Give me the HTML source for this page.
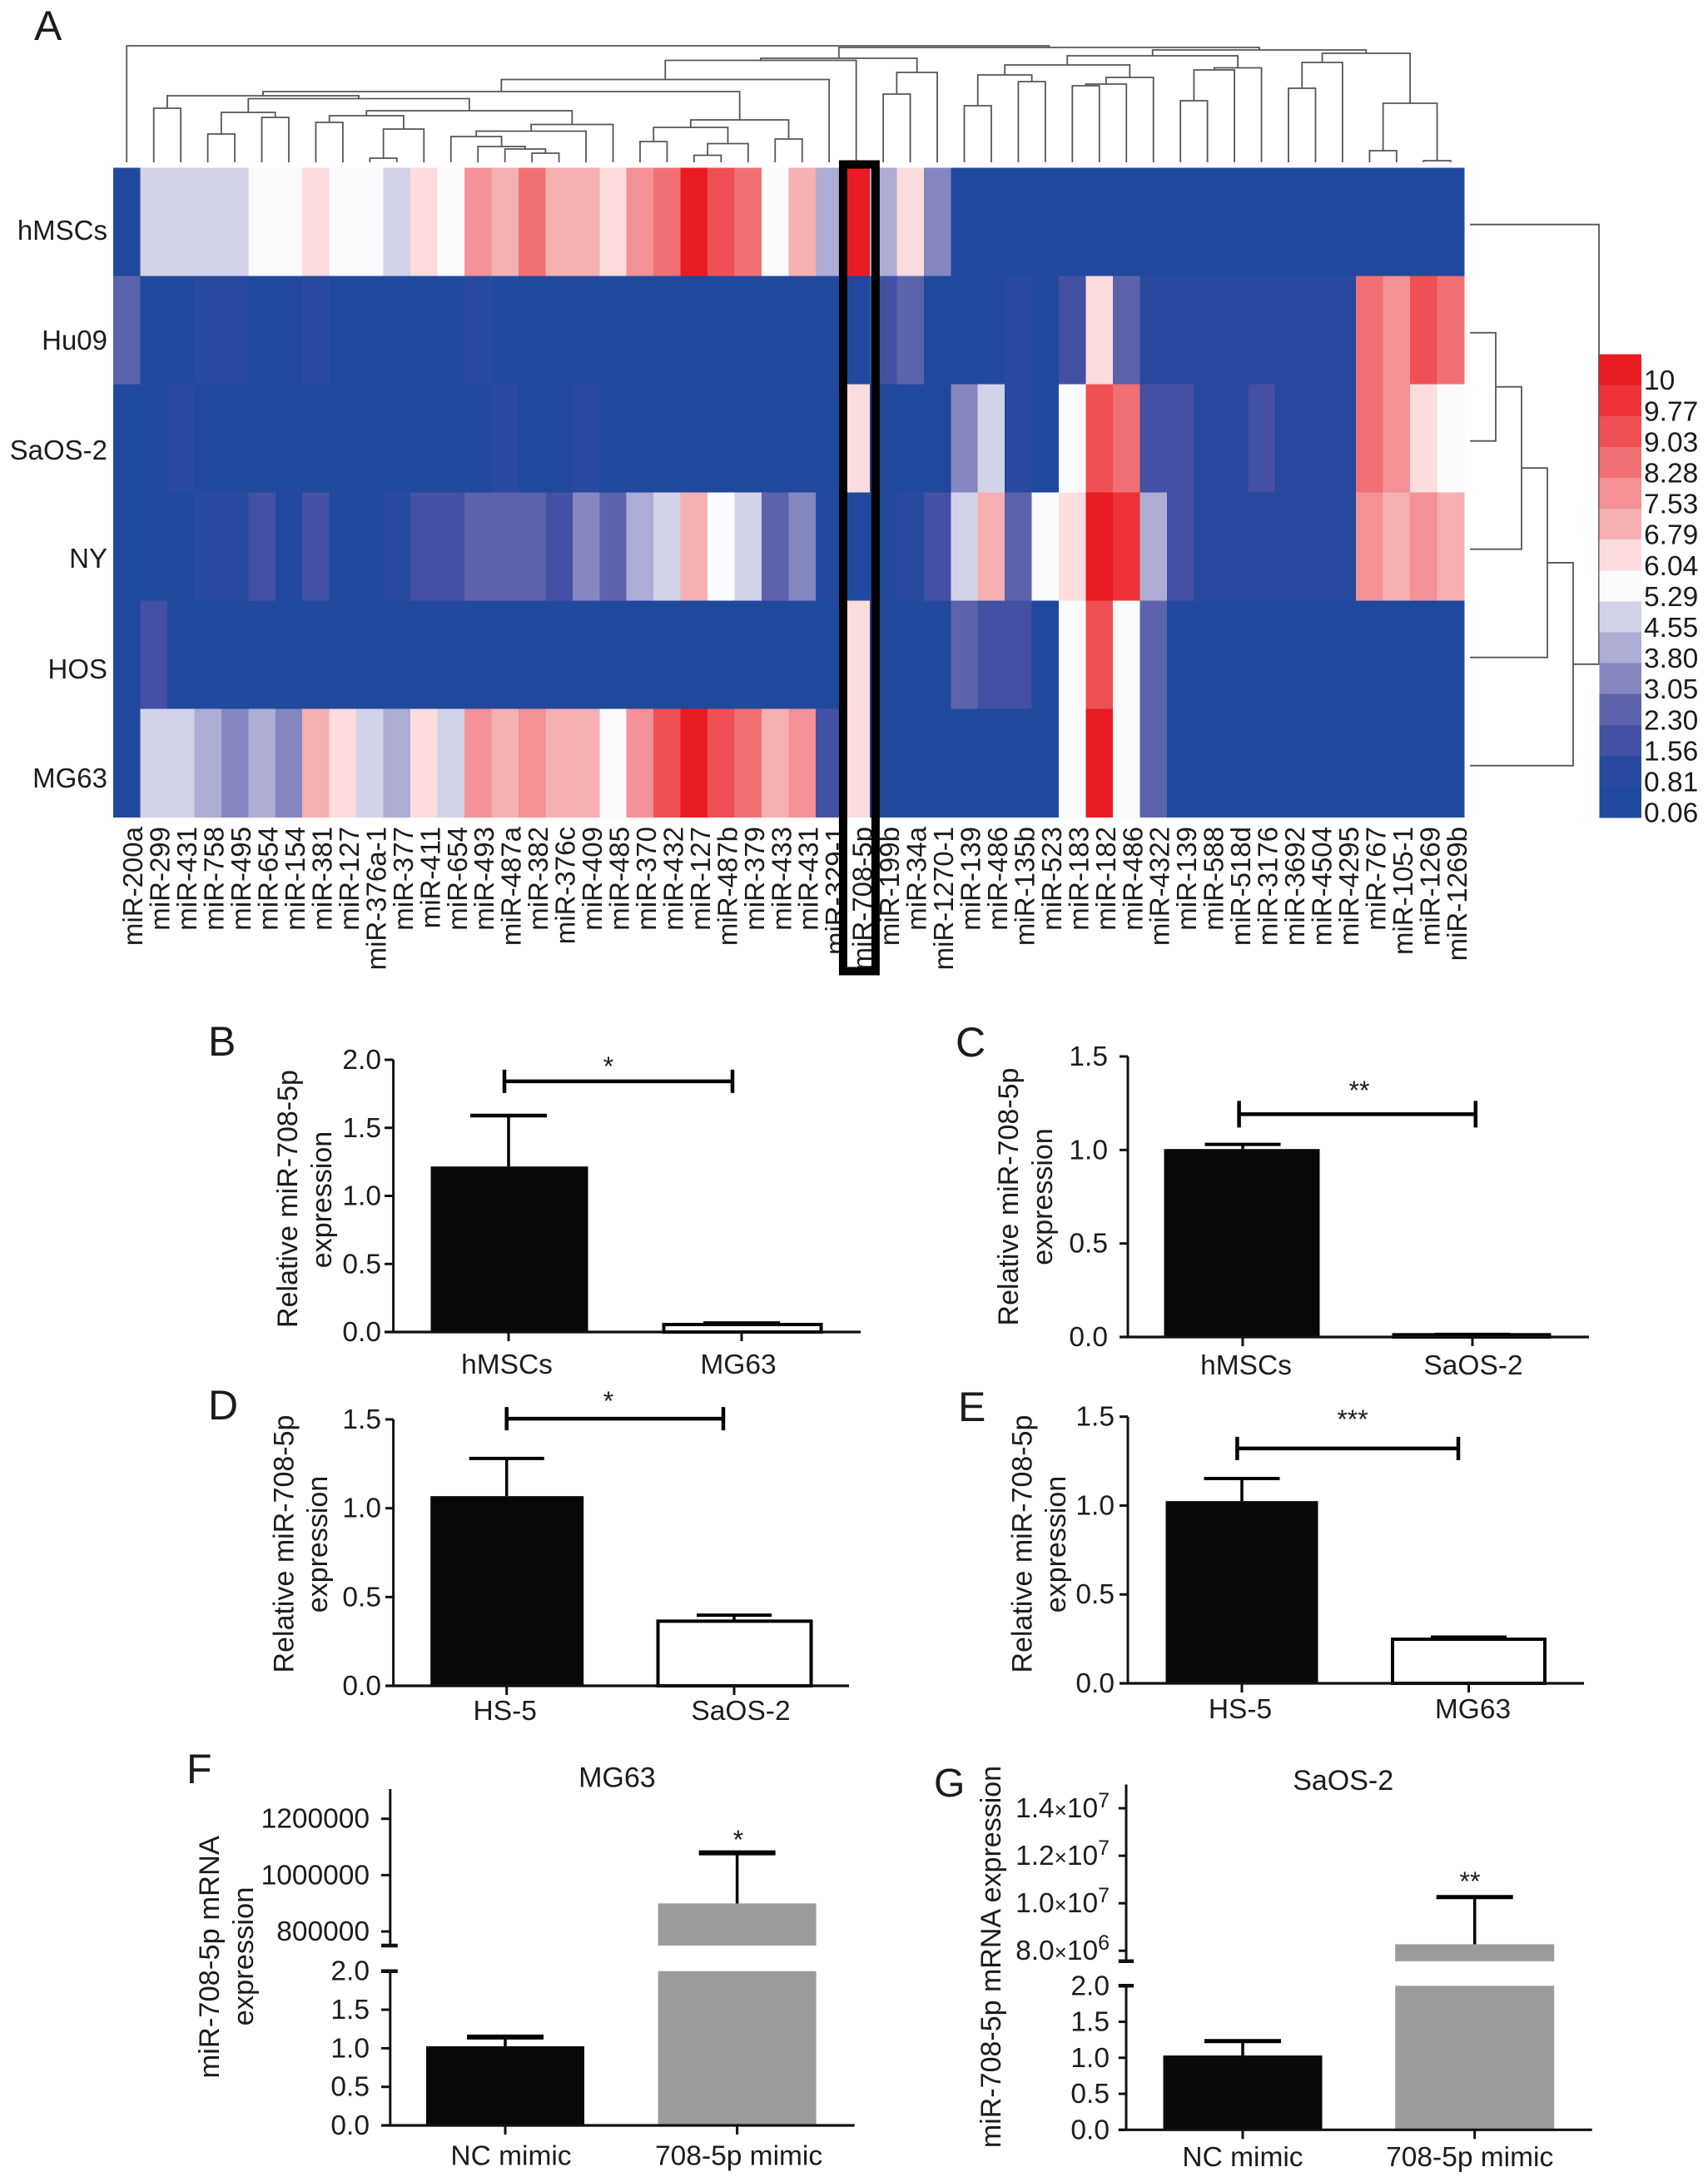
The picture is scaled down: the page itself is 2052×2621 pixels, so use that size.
<!DOCTYPE html>
<html lang="en">
<head>
<meta charset="utf-8">
<title>miR-708-5p expression figure</title>
<style>
html,body{margin:0;padding:0;background:#fff;}
svg{display:block;}
text{font-family:"Liberation Sans",sans-serif;fill:#1c1c1c;}
</style>
</head>
<body>
<svg id="figure" xmlns="http://www.w3.org/2000/svg" width="2052" height="2621" viewBox="0 0 2052 2621">
<rect x="0" y="0" width="2052" height="2621" fill="#fff"/>
<text x="41" y="48" font-size="50">A</text>
<text x="250" y="1268" font-size="50">B</text>
<text x="1148" y="1269" font-size="50">C</text>
<text x="250" y="1705" font-size="50">D</text>
<text x="1151" y="1707" font-size="50">E</text>
<text x="224" y="2142" font-size="50">F</text>
<text x="1122" y="2158" font-size="48">G</text>
</svg>
<script>
/* ---------- Heatmap data ---------- */
const heatColumns = ['miR-200a','miR-299','miR-431','miR-758','miR-495','miR-654','miR-154','miR-381','miR-127','miR-376a-1','miR-377','miR-411','miR-654','miR-493','miR-487a','miR-382','miR-376c','miR-409','miR-485','miR-370','miR-432','miR-127','miR-487b','miR-379','miR-433','miR-431','miR-329-1','miR-708-5p','miR-199b','miR-34a','miR-1270-1','miR-139','miR-486','miR-135b','miR-523','miR-183','miR-182','miR-486','miR-4322','miR-139','miR-588','miR-518d','miR-3176','miR-3692','miR-4504','miR-4295','miR-767','miR-105-1','miR-1269','miR-1269b'];
const heatRowNames = ['hMSCs','Hu09','SaOS-2','NY','HOS','MG63'];
const heatHMSCs = [0.06,4.55,4.55,4.55,4.55,5.29,5.29,6.04,5.29,5.29,4.55,6.04,5.29,7.53,6.79,8.28,6.79,6.79,6.04,7.53,8.28,10,9.03,8.28,5.29,6.79,3.80,10,3.80,6.04,3.05,0.06,0.06,0.06,0.06,0.06,0.06,0.06,0.06,0.06,0.06,0.06,0.06,0.06,0.06,0.06,0.06,0.06,0.06,0.06];
const heatHu09 = [2.30,0.06,0.06,0.81,0.81,0.06,0.06,0.81,0.06,0.06,0.06,0.06,0.06,0.81,0.06,0.06,0.06,0.06,0.06,0.06,0.06,0.06,0.06,0.06,0.06,0.06,0.06,0.06,1.56,2.30,0.06,0.06,0.06,0.81,0.06,1.56,6.04,2.30,0.81,0.81,0.81,0.81,0.81,0.81,0.81,0.81,8.28,7.53,9.03,8.28];
const heatSaOS2 = [0.06,0.06,0.81,0.06,0.06,0.06,0.06,0.06,0.06,0.06,0.06,0.06,0.06,0.06,0.81,0.06,0.06,0.81,0.06,0.06,0.06,0.06,0.06,0.06,0.06,0.06,0.06,6.04,0.06,0.06,0.06,3.05,4.55,0.81,0.06,5.29,9.03,8.28,1.56,1.56,0.81,0.81,1.56,0.81,0.81,0.81,8.28,7.53,6.04,5.29];
const heatNY = [0.06,0.06,0.06,0.81,0.81,1.56,0.06,1.56,0.06,0.06,0.81,1.56,1.56,2.30,2.30,2.30,1.56,3.05,2.30,3.80,4.55,6.79,5.29,4.55,2.30,3.05,0.06,0.06,0.06,0.81,1.56,4.55,6.79,2.30,5.29,6.04,10,9.77,3.80,1.56,0.81,0.81,0.81,0.81,0.81,0.81,7.53,6.79,7.53,6.79];
const heatHOS = [0.06,1.56,0.06,0.06,0.06,0.06,0.06,0.06,0.06,0.06,0.06,0.06,0.06,0.06,0.06,0.06,0.06,0.06,0.06,0.06,0.06,0.06,0.06,0.06,0.06,0.06,0.06,6.04,0.06,0.06,0.06,2.30,1.56,1.56,0.06,5.29,9.03,5.29,2.30,0.06,0.06,0.06,0.06,0.06,0.06,0.06,0.06,0.06,0.06,0.06];
const heatMG63 = [0.06,4.55,4.55,3.80,3.05,3.80,3.05,6.79,6.04,4.55,3.80,6.04,4.55,7.53,6.79,7.53,6.79,6.79,5.29,7.53,9.03,10,9.03,8.28,6.79,7.53,1.56,6.04,0.06,0.06,0.06,0.06,0.06,0.06,0.06,5.29,10,5.29,2.30,0.06,0.06,0.06,0.06,0.06,0.06,0.06,0.06,0.06,0.06,0.06];
const heatRows = [heatHMSCs,heatHu09,heatSaOS2,heatNY,heatHOS,heatMG63];
const legendValues = [10,9.77,9.03,8.28,7.53,6.79,6.04,5.29,4.55,3.80,3.05,2.30,1.56,0.81,0.06];
const legendLabels = ['10','9.77','9.03','8.28','7.53','6.79','6.04','5.29','4.55','3.80','3.05','2.30','1.56','0.81','0.06'];
const legendColors = ['#e91c23','#ec3236','#ee5054','#f07073','#f39196','#f6b0b1','#fcdcdc','#fbfbfd','#d2d2e8','#acacd4','#8586c0','#5c62ac','#4350a3','#27499e','#20499e'];

/* Merge trees: [left, right, mergeHeight]; a bare number is a leaf index. */
const columnTree = [0,[[[[[[[1,2,65],[[[3,4,34],[5,6,54],60],[[[7,8,48],[[9,10,5],11,40],56],[[[12,[13,[14,[15,16,11],16],19],31],17,37.5],18,45.5],62],76.5],80],[[[19,20,25],[[21,22,8.5],23,22.5],42],[24,25,28],51],85],26,99.5],27,122.5],[[28,29,82],30,108],125],[[[[[31,32,68],[33,34,97],105],[[[35,36,92],37,94],38,102],117],[[[39,40,74],41,111],42,113.5],128],[[[43,44,89],45,120],[[46,47,14],[48,49,2],71],131],135],138],140];
const rowTree = [0,[[[[1,2,31],3,62],4,93],5,124],155];

/* ---------- Bar panel data ---------- */
const panelBCategories = ['hMSCs','MG63'];
const panelBValues = [1.216,0.055];
const panelBErrorTops = [1.59,0.065];
const panelBTicks = [0,0.5,1,1.5,2];
const panelBTickLabels = ['0.0','0.5','1.0','1.5','2.0'];

const panelCCategories = ['hMSCs','SaOS-2'];
const panelCValues = [1.005,0.012];
const panelCErrorTops = [1.03,0.014];
const panelCTicks = [0,0.5,1,1.5];
const panelCTickLabels = ['0.0','0.5','1.0','1.5'];

const panelDCategories = ['HS-5','SaOS-2'];
const panelDValues = [1.068,0.364];
const panelDErrorTops = [1.28,0.398];
const panelDTicks = [0,0.5,1,1.5];
const panelDTickLabels = ['0.0','0.5','1.0','1.5'];

const panelECategories = ['HS-5','MG63'];
const panelEValues = [1.025,0.248];
const panelEErrorTops = [1.152,0.26];
const panelETicks = [0,0.5,1,1.5];
const panelETickLabels = ['0.0','0.5','1.0','1.5'];

const panelFCategories = ['NC mimic','708-5p mimic'];
const panelFValues = [1.026,899500];
const panelFErrorTops = [1.145,1079000];
const panelFTicks = [0,0.5,1,1.5,2,800000,1000000,1200000];
const panelFTickLabels = ['0.0','0.5','1.0','1.5','2.0','800000','1000000','1200000'];

const panelGCategories = ['NC mimic','708-5p mimic'];
const panelGValues = [1.032,8275000];
const panelGErrorTops = [1.232,10260000];
const panelGTicks = [0,0.5,1,1.5,2,8000000,10000000,12000000,14000000];
const panelGTickLabels = ['0.0','0.5','1.0','1.5','2.0','8.0×10^6','1.0×10^7','1.2×10^7','1.4×10^7'];

/* ---------- Helpers ---------- */
const NS = 'http://www.w3.org/2000/svg';
const root = document.getElementById('figure');
function mk(tag, attrs, parent){
  const e = document.createElementNS(NS, tag);
  for (const k in attrs) e.setAttribute(k, attrs[k]);
  (parent || root).appendChild(e);
  return e;
}

/* ---------- Heatmap ---------- */
const hm = {left:136, top:201.7, cellW:1623/50, cellH:130};
const hx = function(i){ return hm.left + i*hm.cellW; };
const hy = function(r){ return hm.top + r*hm.cellH; };
function colorFor(v){
  let best = 0, bd = Infinity;
  legendValues.forEach(function(lv,i){ const d = Math.abs(lv-v); if (d<bd){bd=d;best=i;} });
  return legendColors[best];
}
const heatGroup = mk('g',{});


heatRows.forEach(function(row,r){
  row.forEach(function(v,c){
    const cell = mk('rect',{x:hx(c),y:hy(r),width:hm.cellW+0.4,height:hm.cellH+0.4,fill:colorFor(v),'shape-rendering':'crispEdges'},heatGroup);
    
    
  });
});
const rowLabelCenters = [277,409,541,671,804,935];
heatRowNames.forEach(function(n,r){
  const t = mk('text',{x:129,y:rowLabelCenters[r]+11,'text-anchor':'end','font-size':33});
  t.textContent = n;
  
  
});
heatColumns.forEach(function(n,c){
  const px = hx(c)+hm.cellW/2+19;
  const t = mk('text',{x:px,y:993,'text-anchor':'end','font-size':33,transform:'rotate(-90 '+px+' 993)'});
  t.textContent = n;
  
  
});

/* Column dendrogram */
const dendBaseY = 195;
const colDendro = mk('g',{fill:'none',stroke:'#555','stroke-width':1.8});


function drawColNode(n){
  if (typeof n === 'number') return {x:hx(n)+hm.cellW/2, y:dendBaseY};
  const a = drawColNode(n[0]), b = drawColNode(n[1]);
  const y = dendBaseY - n[2];
  const p = mk('path',{d:'M'+a.x+' '+a.y+'V'+y+'H'+b.x+'V'+b.y},colDendro);
  
  
  return {x:(a.x+b.x)/2, y:y};
}
drawColNode(columnTree);

/* Row dendrogram */
const rowDendBaseX = 1766;
const rowDendro = mk('g',{fill:'none',stroke:'#555','stroke-width':1.8});


function drawRowNode(n){
  if (typeof n === 'number') return {x:rowDendBaseX, y:hy(n)+hm.cellH/2+3};
  const a = drawRowNode(n[0]), b = drawRowNode(n[1]);
  const x = rowDendBaseX + n[2];
  const p = mk('path',{d:'M'+a.x+' '+a.y+'H'+x+'V'+b.y+'H'+b.x},rowDendro);
  
  
  return {x:x, y:(a.y+b.y)/2};
}
drawRowNode(rowTree);

/* Highlight box around miR-708-5p */
const hlIndex = heatColumns.indexOf('miR-708-5p');
const highlight = mk('rect',{x:hx(hlIndex)+0.5,y:197.5,width:hm.cellW+6.5,height:969,fill:'none',stroke:'#000','stroke-width':10});



/* Colour legend */
const lg = {x:1921.5,y:425.6,w:50.5,h:37.1};
legendLabels.forEach(function(lab,i){
  const band = mk('rect',{x:lg.x,y:lg.y+i*lg.h,width:lg.w,height:lg.h+0.4,fill:legendColors[i],'shape-rendering':'crispEdges'});
  
  
  const t = mk('text',{x:1975,y:lg.y+(i+0.5)*lg.h+13+11,'font-size':33.5});
  t.textContent = lab;
  
  
});

/* ---------- Bar panels ---------- */
function drawPanel(f, categories, values, errorTops, ticks, tickLabels){
  const g = mk('g',{});
  
  

  function yScale(v){
    let s = f.segments[0];
    f.segments.forEach(function(seg){ if (v >= seg.min) s = seg; });
    return s.yBottom - (v - s.min) * (s.yBottom - s.yTop) / (s.max - s.min);
  }
  function xScale(i){ return f.x0 + i*f.step; }

  /* bars (broken into the axis segments) */
  values.forEach(function(v,i){
    f.segments.forEach(function(seg){
      if (v <= seg.min) return;
      const top = yScale(Math.min(v,seg.max));
      const bot = seg.yBottom;
      const st = f.barStroke[i];
      const bar = mk('rect',{x:xScale(i)+f.barDx-f.barW/2,y:top,width:f.barW,height:bot-top,fill:f.barFill[i],stroke:st,'stroke-width':st==='none'?0:4},g);
      
      
    });
  });

  /* error bars */
  errorTops.forEach(function(e,i){
    const cx = xScale(i);
    const stem = mk('line',{x1:cx,x2:cx,y1:yScale(values[i]),y2:yScale(e),stroke:'#000','stroke-width':3.5},g);
    
    
    const cap = mk('line',{x1:cx-f.capW/2,x2:cx+f.capW/2,y1:yScale(e),y2:yScale(e),stroke:'#000','stroke-width':f.capStroke},g);
    
    
  });

  /* y axis */
  f.segments.forEach(function(seg){
    const ax = mk('line',{x1:f.axisX,x2:f.axisX,y1:seg.yBottom,y2:seg.yTop,stroke:'#111','stroke-width':3},g);
    
    
  });
  if (f.segments.length > 1){
    [f.segments[0].max, f.segments[1].min].forEach(function(v){
      const brk = mk('line',{x1:f.tickLeft,x2:f.axisX+9,y1:yScale(v),y2:yScale(v),stroke:'#111','stroke-width':4.5},g);
      
      
    });
  }
  ticks.forEach(function(v,i){
    const y = yScale(v);
    const tk = mk('line',{x1:f.tickLeft,x2:f.axisX,y1:y,y2:y,stroke:'#111','stroke-width':3},g);
    
    
    const t = mk('text',{x:f.tickLabelRight,y:y+11,'text-anchor':'end','font-size':33.5},g);
    const parts = tickLabels[i].split('×10^');
    if (parts.length === 2){
      const a = mk('tspan',{},t); a.textContent = parts[0];
      const b = mk('tspan',{'font-size':26},t); b.textContent = '×';
      const c = mk('tspan',{},t); c.textContent = '10';
      const d = mk('tspan',{'font-size':25,dy:-12},t); d.textContent = parts[1];
    } else {
      t.textContent = tickLabels[i];
    }
    
    
  });

  /* x axis */
  const y0 = yScale(0);
  const xa = mk('line',{x1:f.tickLeft,x2:f.axisEnd,y1:y0,y2:y0,stroke:'#111','stroke-width':3.2},g);
  
  
  categories.forEach(function(c,i){
    const cx = xScale(i);
    const tk = mk('line',{x1:cx,x2:cx,y1:y0,y2:y0+11,stroke:'#111','stroke-width':3},g);
    
    
    const t = mk('text',{x:cx+f.labelDx[i],y:f.catLabelY+11,'text-anchor':'middle','font-size':33.5},g);
    t.textContent = c;
    
    
  });

  /* y title */
  f.titleLines.forEach(function(l){
    const t = mk('text',{x:l.x,y:l.y,'text-anchor':'middle','font-size':l.size,transform:'rotate(-90 '+l.x+' '+l.y+')'},g);
    t.textContent = l.text;
    
    
  });

  /* significance bracket */
  if (f.bracket){
    const b = f.bracket, by = yScale(b.value);
    const br = mk('path',{d:'M'+b.x1+' '+(by-b.cap)+'V'+(by+b.cap)+'M'+b.x1+' '+by+'H'+b.x2+'M'+b.x2+' '+(by-b.cap)+'V'+(by+b.cap),fill:'none',stroke:'#000','stroke-width':4.5},g);
    
    
  }
  const star = mk('text',{x:f.star.x,y:f.star.y+12,'text-anchor':'middle','font-size':32},g);
  star.textContent = f.star.text;
  
  

  /* chart title */
  if (f.chartTitle){
    const t = mk('text',{x:f.chartTitle.x,y:f.chartTitle.y+11,'text-anchor':'middle','font-size':34},g);
    t.textContent = f.chartTitle.text;
    
    
  }
}

drawPanel({
  id:'b',x0:611,step:280,barW:189,barDx:1,capW:92,capStroke:4.5,axisX:472.6,tickLeft:462,axisEnd:1034,tickLabelRight:458,catLabelY:1639,
  labelDx:[-2,-4],barFill:['#080808','#fff'],barStroke:['none','#000'],
  segments:[{min:0,max:2,yBottom:1600,yTop:1273}],
  titleLines:[{text:'Relative miR-708-5p',x:357,y:1440,size:34},{text:'expression',x:398,y:1441,size:34}],
  bracket:{x1:606,x2:880,value:1.842,cap:14},star:{x:731,y:1280,text:'*'}
},panelBCategories,panelBValues,panelBErrorTops,panelBTicks,panelBTickLabels);

drawPanel({
  id:'c',x0:1493,step:276,barW:187,barDx:-1,capW:91,capStroke:4,axisX:1355,tickLeft:1345,axisEnd:1909,tickLabelRight:1331,catLabelY:1640,
  labelDx:[4,1],barFill:['#080808','#fff'],barStroke:['none','#000'],
  segments:[{min:0,max:1.5,yBottom:1606,yTop:1269}],
  titleLines:[{text:'Relative miR-708-5p',x:1223,y:1437.5,size:34},{text:'expression',x:1264,y:1437.5,size:34}],
  bracket:{x1:1488.6,x2:1772.8,value:1.191,cap:16},star:{x:1633,y:1309,text:'**'}
},panelCCategories,panelCValues,panelCErrorTops,panelCTicks,panelCTickLabels);

drawPanel({
  id:'d',x0:608.7,step:273.3,barW:184,barDx:0.5,capW:90,capStroke:4,axisX:472.6,tickLeft:463,axisEnd:1020,tickLabelRight:458,catLabelY:2055,
  labelDx:[-2,8],barFill:['#080808','#fff'],barStroke:['none','#000'],
  segments:[{min:0,max:1.5,yBottom:2025,yTop:1705}],
  titleLines:[{text:'Relative miR-708-5p',x:352.5,y:1854.5,size:34},{text:'expression',x:393,y:1855,size:34}],
  bracket:{x1:608.7,x2:869,value:1.504,cap:14},star:{x:731,y:1682,text:'*'}
},panelDCategories,panelDValues,panelDErrorTops,panelDTicks,panelDTickLabels);

drawPanel({
  id:'e',x0:1492,step:272.5,barW:183,barDx:0,capW:91,capStroke:4,axisX:1355,tickLeft:1345,axisEnd:1903,tickLabelRight:1339,catLabelY:2053,
  labelDx:[-2,5],barFill:['#080808','#fff'],barStroke:['none','#000'],
  segments:[{min:0,max:1.5,yBottom:2022,yTop:1701.7}],
  titleLines:[{text:'Relative miR-708-5p',x:1239.6,y:1854.5,size:34},{text:'expression',x:1280,y:1855,size:34}],
  bracket:{x1:1486.4,x2:1752,value:1.321,cap:14},star:{x:1625,y:1704,text:'***'}
},panelECategories,panelEValues,panelEErrorTops,panelETicks,panelETickLabels);

drawPanel({
  id:'f',x0:607,step:278.6,barW:190,barDx:0,capW:92,capStroke:6,axisX:468.8,tickLeft:458,axisEnd:1026.7,tickLabelRight:444,catLabelY:2589.5,
  labelDx:[7,2],barFill:['#080808','#9b9b9d'],barStroke:['none','none'],
  segments:[{min:0,max:2,yBottom:2553,yTop:2367.7},{min:750000,max:1305400,yBottom:2337,yTop:2149}],
  titleLines:[{text:'miR-708-5p mRNA',x:263,y:2350.8,size:34.5},{text:'expression',x:304,y:2350,size:34.5}],
  bracket:null,star:{x:886.8,y:2209,text:'*'},chartTitle:{text:'MG63',x:741.4,y:2135.7}
},panelFCategories,panelFValues,panelFErrorTops,panelFTicks,panelFTickLabels);

drawPanel({
  id:'g',x0:1493,step:278.7,barW:191,barDx:0,capW:92,capStroke:5,axisX:1353,tickLeft:1343.8,axisEnd:1912.7,tickLabelRight:1333,catLabelY:2591,
  labelDx:[0,-6],barFill:['#080808','#9b9b9d'],barStroke:['none','none'],
  segments:[{min:0,max:2,yBottom:2558.3,yTop:2385.3},{min:7560000,max:15000000,yBottom:2355.8,yTop:2143.5}],
  titleLines:[{text:'miR-708-5p mRNA expression',x:1202,y:2350.5,size:34}],
  bracket:null,star:{x:1766,y:2259,text:'**'},chartTitle:{text:'SaOS-2',x:1613.7,y:2139}
},panelGCategories,panelGValues,panelGErrorTops,panelGTicks,panelGTickLabels);
</script>
</body>
</html>
